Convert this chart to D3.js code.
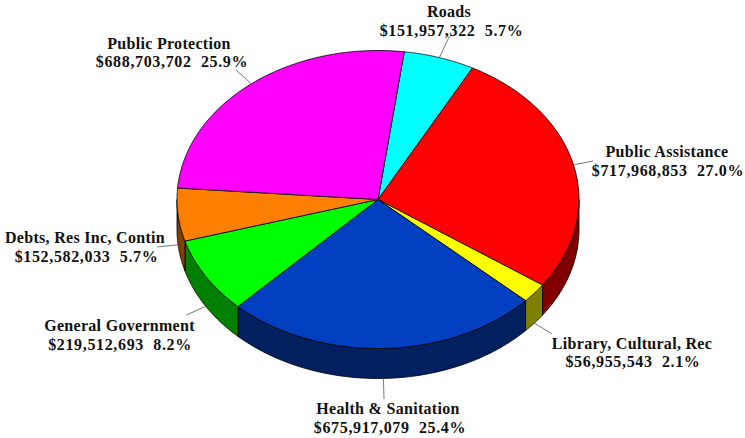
<!DOCTYPE html>
<html>
<head>
<meta charset="utf-8">
<script src="https://cdn.jsdelivr.net/npm/d3@7"></script>
<style>
html, body { margin: 0; padding: 0; background: #fff; }
svg { display: block; }
text { font-family: "Liberation Serif", serif; font-weight: bold; font-size: 16px; fill: #111; white-space: pre; }
.name { letter-spacing: 0.3px; }
.amount { letter-spacing: 0.65px; }
</style>
</head>
<body>
<svg id="chart"></svg>
<script>
// Values, clockwise starting at Roads
const categories = ["Roads", "Public Assistance", "Library, Cultural, Rec", "Health & Sanitation",
    "General Government", "Debts, Res Inc, Contin", "Public Protection"];
const amounts = [151957322, 717968853, 56955543, 675917079, 219512693, 152582033, 688703702];
const percents = ["5.7%", "27.0%", "2.1%", "25.4%", "8.2%", "5.7%", "25.9%"];

const topColors = ["#00ffff", "#ff0000", "#ffff00", "#0040c0", "#00ff00", "#ff8000", "#ff00ff"];
const sideColors = ["#008080", "#800000", "#808000", "#002060", "#008000", "#804000", "#800080"];

// Label layout: centre x of each line, baselines, outer end of the leader line
const labelX1 = [449, 667, 632, 388, 119.5, 85, 169];
const labelX2 = [451.5, 668, 633, 390, 120, 86.5, 172];
const labelY1 = [17, 157, 349, 414, 331, 243, 49];
const labelY2 = [36, 176, 367, 433, 350, 262, 67];
const leaderX = [449.5, 593, 552, 384, 186.5, 157, 236];
const leaderY = [36, 161, 334, 399, 315, 247, 70];

const width = 745;
const height = 438;
const cx = 378;
const cy = 199.5;
const rx = 201;
const ry = 149;
const depth = 30;

const svg = d3.select("#chart").attr("width", width).attr("height", height);

const startAngle = 7.5 * Math.PI / 180;
const pie = d3.pie().sort(null).startAngle(startAngle).endAngle(startAngle + 2 * Math.PI);
const arcs = pie(amounts);

// Map a pie angle onto the tilted ellipse
const ellipseX = d3.scaleLinear().domain([-1, 1]).range([cx - rx, cx + rx]);
const ellipseY = d3.scaleLinear().domain([-1, 1]).range([cy - ry, cy + ry]);
const rim = (a, drop = 0) => [ellipseX(Math.sin(a)), ellipseY(-Math.cos(a)) + drop];

// Only the front half of the rim (90deg to 270deg) shows a wall
function wallPath(d) {
    const frontStart = Math.PI / 2;
    const frontEnd = 3 * Math.PI / 2;
    const a0 = Math.max(d.startAngle, frontStart);
    const a1 = Math.min(d.endAngle, frontEnd);
    if (a1 <= a0) return null;
    const steps = d3.range(0, 61).map(i => a0 + (a1 - a0) * i / 60);
    const pts = steps.map(a => rim(a)).concat(steps.slice().reverse().map(a => rim(a, depth)));
    return d3.line()(pts) + "Z";
}

function topPath(d) {
    const steps = d3.range(0, 121).map(i => d.startAngle + (d.endAngle - d.startAngle) * i / 120);
    return d3.line()([[cx, cy]].concat(steps.map(a => rim(a)))) + "Z";
}

// Walls
svg.append("g")
    .selectAll("path")
    .data(arcs.filter(d => wallPath(d)))
    .join("path")
    .attr("d", wallPath)
    .attr("fill", d => sideColors[d.index])
    .attr("stroke", "#000")
    .attr("stroke-width", 0.8)
    .attr("stroke-linejoin", "round");

// Top face
svg.append("g")
    .selectAll("path")
    .data(arcs)
    .join("path")
    .attr("d", topPath)
    .attr("fill", d => topColors[d.index])
    .attr("stroke", "#000")
    .attr("stroke-width", 0.8)
    .attr("stroke-linejoin", "round");

// Leader lines, from the middle of each slice's outer edge
const midAngle = d => (d.startAngle + d.endAngle) / 2;
const isFront = d => Math.cos(midAngle(d)) < 0;

svg.append("g")
    .selectAll("line")
    .data(arcs)
    .join("line")
    .attr("x1", d => rim(midAngle(d))[0])
    .attr("y1", d => rim(midAngle(d), isFront(d) ? depth : 0)[1])
    .attr("x2", d => leaderX[d.index])
    .attr("y2", d => leaderY[d.index])
    .attr("stroke", "#555")
    .attr("stroke-width", 0.8);

// Labels
const money = d3.format("$,");
const labels = svg.append("g")
    .selectAll("text")
    .data(arcs)
    .join("text")
    .attr("text-anchor", "middle");

labels.append("tspan")
    .attr("class", "name")
    .attr("x", d => labelX1[d.index])
    .attr("y", d => labelY1[d.index])
    .text(d => categories[d.index]);

labels.append("tspan")
    .attr("class", "amount")
    .attr("x", d => labelX2[d.index])
    .attr("y", d => labelY2[d.index])
    .text(d => money(amounts[d.index]) + "  " + percents[d.index]);
</script>
</body>
</html>
